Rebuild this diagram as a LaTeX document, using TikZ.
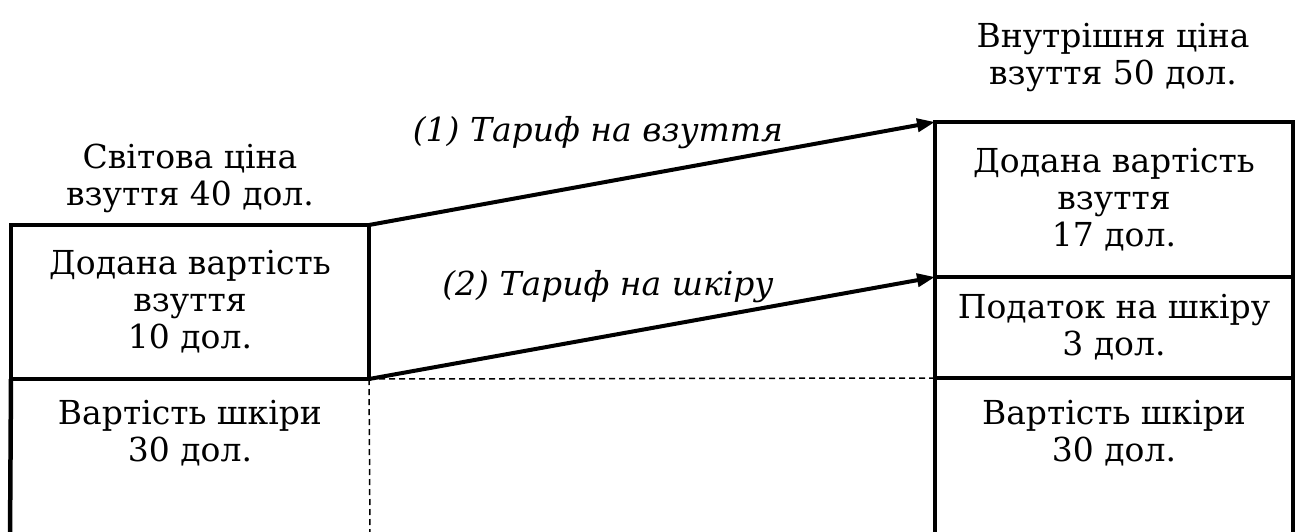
\documentclass[tikz,border=0pt]{standalone}
\usepackage{fontspec}
\setmainfont{DejaVu Serif}
\usetikzlibrary{arrows.meta}
\begin{document}
\begin{tikzpicture}[x=1pt,y=-1pt,
  box/.style={draw,line width=4.5pt,outer sep=0pt,inner sep=0pt,minimum width=358pt},
  lbl/.style={align=center,font=\fontsize{33}{37}\selectfont,inner sep=0pt},
  ital/.style={font=\fontsize{33}{37}\selectfont\itshape,inner sep=0pt},
  wall/.style={line width=4.5pt},
  guide/.style={line width=1.5pt,dash pattern=on 6pt off 4pt},
  tariff/.style={line width=4pt,-{Triangle[length=18pt,width=13pt]}}]
\useasboundingbox (0,0) rectangle (1297,532);

% headings
\node[lbl] (world) at (190,178) {Світова ціна\\взуття 40 дол.};
\node[lbl] (home) at (1113,58) {Внутрішня ціна\\взуття 50 дол.};

% left column: price at world level
\node[box,minimum height=154pt] (lt) at (190,302) {};
\node[lbl] at (lt.center) {Додана вартість\\взуття\\10 дол.};
\coordinate (lbl) at (10,540);
\coordinate (lbr) at (370,540);
\draw[wall] (lt.south west) -- (lbl);
\draw[guide] (lt.south east) -- (lbr);
\node[lbl] (lb) at (190,433) {Вартість шкіри\\30 дол.};

% right column: domestic price
\node[box,minimum height=155pt] (rt) at (1114,199.5) {};
\node[lbl] at (rt.center) {Додана вартість\\взуття\\17 дол.};
\node[box,minimum height=101pt] (rm) at (1114,327.5) {};
\node[lbl] at (rm.center) {Податок на шкіру\\3 дол.};
\coordinate (rbl) at (935,540);
\coordinate (rbr) at (1293,540);
\draw[wall] (rm.south west) -- (rbl);
\draw[wall] (rm.south east) -- (rbr);
\node[lbl] (rb) at (1114,433) {Вартість шкіри\\30 дол.};

% dashed level of leather cost
\draw[guide] (lt.south east) -- (rm.south west);

% tariffs
\draw[tariff] (lt.north east) -- (rt.north west);
\draw[tariff] (lt.south east) -- (rm.north west);
\node[ital] (t1) at (598,133) {(1) Тариф на взуття};
\node[ital] (t2) at (608,287) {(2) Тариф на шкіру};
\end{tikzpicture}
\end{document}
